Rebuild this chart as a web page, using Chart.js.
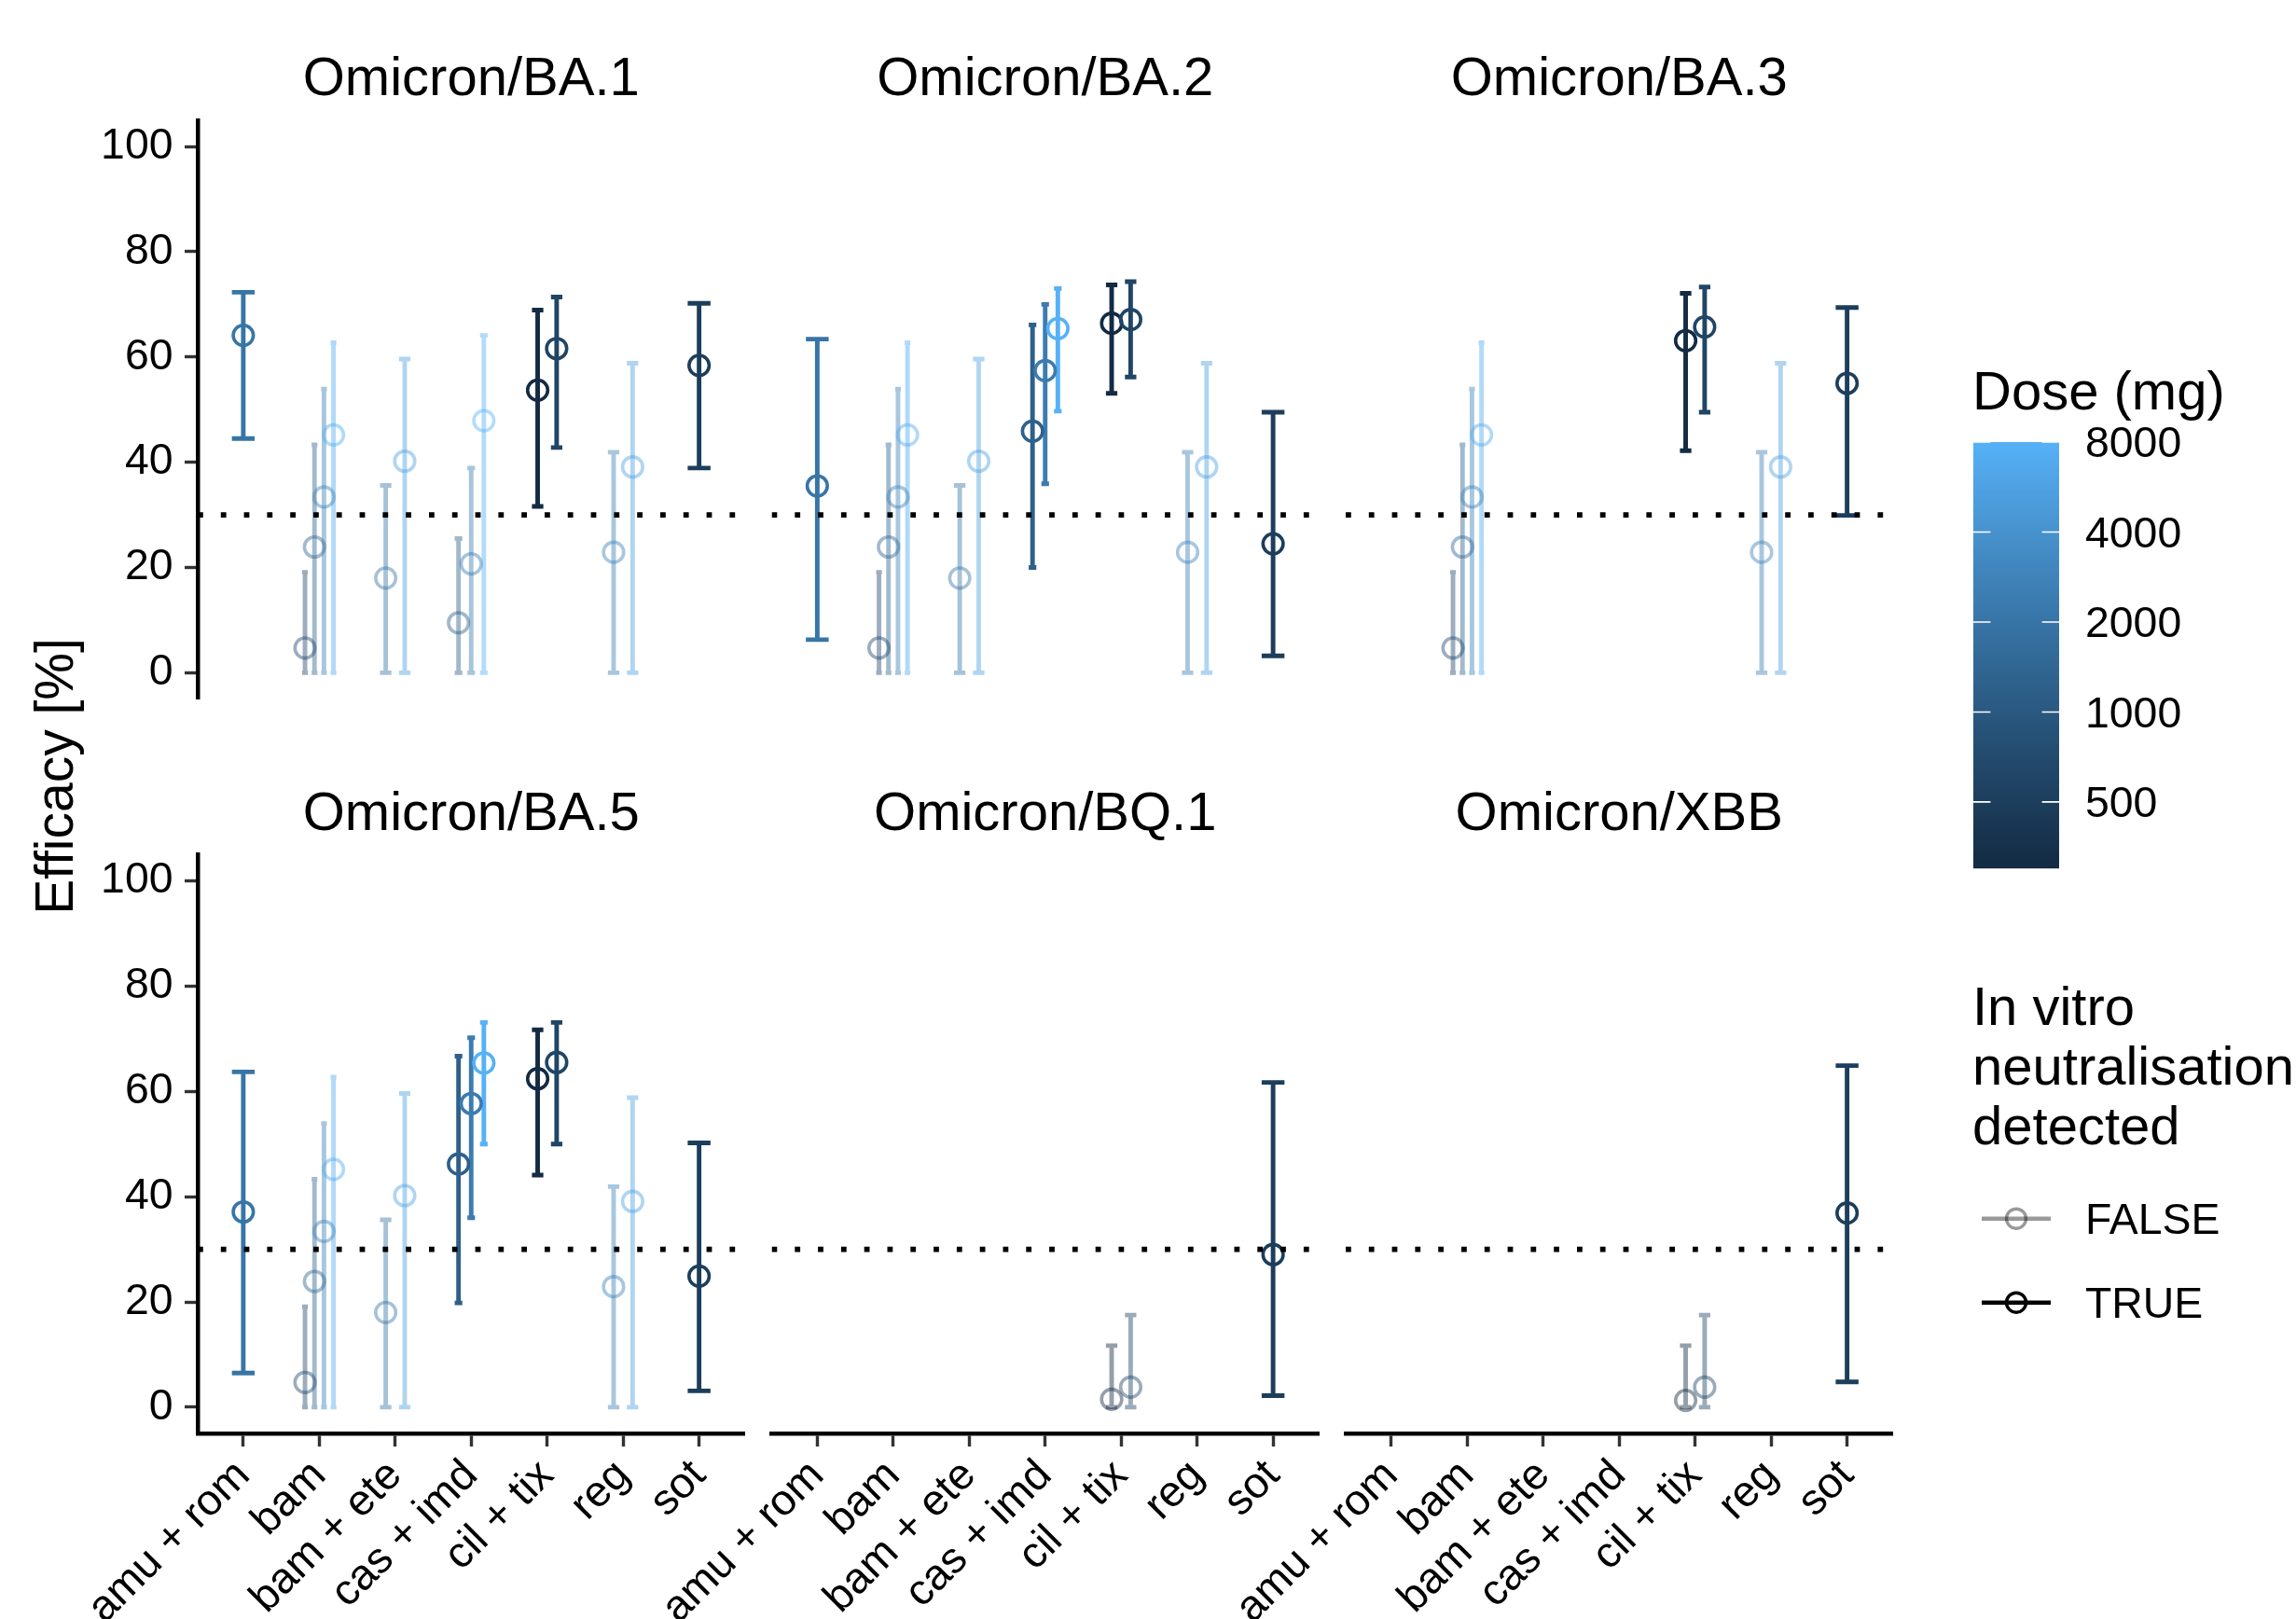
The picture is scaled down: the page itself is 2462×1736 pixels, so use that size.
<!DOCTYPE html>
<html>
<head>
<meta charset="utf-8">
<script src="https://cdn.jsdelivr.net/npm/chart.js@4.4.1/dist/chart.umd.min.js"></script>
<style>
html, body { margin: 0; padding: 0; background: #fff; }
#page { position: relative; width: 2462px; height: 1736px; overflow: hidden;
        font-family: "Liberation Sans", Arial, Helvetica, sans-serif; color: #000; }
#page canvas { position: absolute; left: 0; top: 0; }
.txt { position: absolute; white-space: nowrap; }
</style>
</head>
<body>
<div id="page"></div>
<script>
// ---- data ----
const variants = ["Omicron/BA.1", "Omicron/BA.2", "Omicron/BA.3", "Omicron/BA.5", "Omicron/BQ.1", "Omicron/XBB"];
const drugs = ["amu + rom", "bam", "bam + ete", "cas + imd", "cil + tix", "reg", "sot"];
const yTicks = [0, 20, 40, 60, 80, 100];
const doseTicks = [500, 1000, 2000, 4000, 8000];
const doseRange = [300, 8000];
const threshold = 30;

// drug, dose (mg), efficacy %, lower, upper, in vitro neutralisation detected
const ba1 = [
  ["amu + rom", 2000, 64.1, 44.5, 72.3, true],
  ["bam", 700, 4.7, 0, 19.1, false],
  ["bam", 1400, 23.9, 0, 43.3, false],
  ["bam", 2800, 33.4, 0, 53.9, false],
  ["bam", 7000, 45.2, 0, 62.7, false],
  ["bam + ete", 2100, 18.0, 0, 35.6, false],
  ["bam + ete", 5600, 40.2, 0, 59.6, false],
  ["cas + imd", 1200, 9.5, 0, 25.5, false],
  ["cas + imd", 2400, 20.7, 0, 38.9, false],
  ["cas + imd", 8000, 47.9, 0, 64.1, false],
  ["cil + tix", 300, 53.7, 31.6, 68.9, true],
  ["cil + tix", 600, 61.6, 42.8, 71.4, true],
  ["reg", 2800, 22.9, 0, 41.9, false],
  ["reg", 5600, 39.1, 0, 58.8, false],
  ["sot", 500, 58.4, 38.9, 70.2, true]
];
const ba2 = [
  ["amu + rom", 2000, 35.5, 6.3, 63.4, true],
  ["bam", 700, 4.7, 0, 19.1, false],
  ["bam", 1400, 23.9, 0, 43.3, false],
  ["bam", 2800, 33.4, 0, 53.9, false],
  ["bam", 7000, 45.2, 0, 62.7, false],
  ["bam + ete", 2100, 18.0, 0, 35.6, false],
  ["bam + ete", 5600, 40.2, 0, 59.6, false],
  ["cas + imd", 1200, 45.9, 20.0, 66.1, true],
  ["cas + imd", 2400, 57.4, 35.9, 70.0, true],
  ["cas + imd", 8000, 65.4, 49.7, 73.0, true],
  ["cil + tix", 300, 66.4, 53.1, 73.7, true],
  ["cil + tix", 600, 67.1, 56.2, 74.3, true],
  ["reg", 2800, 22.9, 0, 41.9, false],
  ["reg", 5600, 39.1, 0, 58.8, false],
  ["sot", 500, 24.5, 3.2, 49.5, true]
];
const ba3 = [
  ["bam", 700, 4.7, 0, 19.1, false],
  ["bam", 1400, 23.9, 0, 43.3, false],
  ["bam", 2800, 33.4, 0, 53.9, false],
  ["bam", 7000, 45.2, 0, 62.7, false],
  ["cil + tix", 300, 63.1, 42.2, 72.1, true],
  ["cil + tix", 600, 65.7, 49.5, 73.3, true],
  ["reg", 2800, 22.9, 0, 41.9, false],
  ["reg", 5600, 39.1, 0, 58.8, false],
  ["sot", 500, 55.0, 29.9, 69.4, true]
];
const ba5 = [
  ["amu + rom", 2000, 37.1, 6.5, 63.7, true],
  ["bam", 700, 4.7, 0, 19.1, false],
  ["bam", 1400, 23.9, 0, 43.3, false],
  ["bam", 2800, 33.4, 0, 53.9, false],
  ["bam", 7000, 45.2, 0, 62.7, false],
  ["bam + ete", 2100, 18.0, 0, 35.6, false],
  ["bam + ete", 5600, 40.2, 0, 59.6, false],
  ["cas + imd", 1200, 46.2, 19.8, 66.7, true],
  ["cas + imd", 2400, 57.7, 36.0, 70.2, true],
  ["cas + imd", 8000, 65.4, 50.0, 73.1, true],
  ["cil + tix", 300, 62.4, 44.1, 71.7, true],
  ["cil + tix", 600, 65.5, 50.0, 73.1, true],
  ["reg", 2800, 22.9, 0, 41.9, false],
  ["reg", 5600, 39.1, 0, 58.8, false],
  ["sot", 500, 24.9, 3.1, 50.2, true]
];
const bq1 = [
  ["cil + tix", 300, 1.5, 0, 11.7, false],
  ["cil + tix", 600, 3.8, 0, 17.5, false],
  ["sot", 500, 29.0, 2.2, 61.7, true]
];
const xbb = [
  ["cil + tix", 300, 1.3, 0, 11.7, false],
  ["cil + tix", 600, 3.8, 0, 17.5, false],
  ["sot", 500, 36.9, 4.8, 64.9, true]
];
const panelRows = [ba1, ba2, ba3, ba5, bq1, xbb];

// ---- layout ----
const W = 2462, H = 1736;
const colLeft = [212, 827.5, 1443];
const rowTop = [128.8, 916.3];
const panelW = 586.5, panelH = 620.8;
const yAxisW = 150;
const xAxisH = H - rowTop[1] - panelH;
const FONT = '"Liberation Sans", Arial, Helvetica, sans-serif';
const dodgeW = 0.5, capW = 0.3, falseAlpha = 0.45;
const page = document.getElementById("page");

// ggplot-like gradient (Lab interpolation, log dose)
function hexRgb(h) { return [1, 3, 5].map(i => parseInt(h.slice(i, i + 2), 16)); }
function rgbLab(c) {
  const l = c.map(v => { v /= 255; return v <= 0.04045 ? v / 12.92 : Math.pow((v + 0.055) / 1.055, 2.4); });
  const X = (l[0] * 0.4124564 + l[1] * 0.3575761 + l[2] * 0.1804375) / 0.95047;
  const Y = l[0] * 0.2126729 + l[1] * 0.7151522 + l[2] * 0.0721750;
  const Z = (l[0] * 0.0193339 + l[1] * 0.1191920 + l[2] * 0.9503041) / 1.08883;
  const f = t => t > 0.008856 ? Math.cbrt(t) : 7.787 * t + 16 / 116;
  return [116 * f(Y) - 16, 500 * (f(X) - f(Y)), 200 * (f(Y) - f(Z))];
}
function labRgb(L, a, b) {
  const fy = (L + 16) / 116, fx = fy + a / 500, fz = fy - b / 200;
  const g = t => t * t * t > 0.008856 ? t * t * t : (t - 16 / 116) / 7.787;
  const X = g(fx) * 0.95047, Y = g(fy), Z = g(fz) * 1.08883;
  const r = 3.2404542 * X - 1.5371385 * Y - 0.4985314 * Z;
  const gg = -0.9692660 * X + 1.8760108 * Y + 0.0415560 * Z;
  const bb = 0.0556434 * X - 0.2040259 * Y + 1.0572252 * Z;
  return [r, gg, bb].map(v => {
    v = v <= 0.0031308 ? 12.92 * v : 1.055 * Math.pow(v, 1 / 2.4) - 0.055;
    return Math.round(Math.min(1, Math.max(0, v)) * 255);
  });
}
const lowLab = rgbLab(hexRgb("#132B43")), highLab = rgbLab(hexRgb("#56B1F7"));
function doseColor(d, a = 1) {
  let t = (Math.log(d) - Math.log(doseRange[0])) / (Math.log(doseRange[1]) - Math.log(doseRange[0]));
  t = Math.min(1, Math.max(0, t));
  const c = labRgb(...lowLab.map((v, i) => v + (highLab[i] - v) * t));
  return `rgba(${c[0]},${c[1]},${c[2]},${a})`;
}

function buildPoints(rows) {
  const counts = {}, seen = {};
  rows.forEach(r => counts[r[0]] = (counts[r[0]] || 0) + 1);
  return rows.map(r => {
    const n = counts[r[0]];
    const k = seen[r[0]] = (seen[r[0]] === undefined ? 0 : seen[r[0]] + 1);
    return {
      x: drugs.indexOf(r[0]) - dodgeW / 2 + dodgeW * (k + 0.5) / n,
      y: r[2], lo: r[3], hi: r[4],
      cap: capW / 2 / n,
      col: doseColor(r[1], r[5] ? 1 : falseAlpha)
    };
  });
}

// error bars drawn under the points, through the chart scales
const errorBars = {
  id: "errorBars",
  beforeDatasetsDraw(chart) {
    const ctx = chart.ctx, xs = chart.scales.x, ys = chart.scales.y;
    ctx.save();
    ctx.lineWidth = 4.9;
    ctx.lineCap = "butt";
    chart.data.datasets[1].data.forEach(p => {
      const x = xs.getPixelForValue(p.x);
      const w = xs.getPixelForValue(p.x + p.cap) - x;
      const y1 = ys.getPixelForValue(p.lo), y2 = ys.getPixelForValue(p.hi);
      ctx.strokeStyle = p.col;
      ctx.beginPath();
      ctx.moveTo(x - w, y2); ctx.lineTo(x + w, y2);
      ctx.moveTo(x, y2); ctx.lineTo(x, y1);
      ctx.moveTo(x - w, y1); ctx.lineTo(x + w, y1);
      ctx.stroke();
    });
    ctx.restore();
  }
};

function addText(str, x, baseline, fs, align) {
  const d = document.createElement("div");
  d.className = "txt";
  d.textContent = str;
  d.style.fontSize = fs + "px";
  d.style.lineHeight = fs + "px";
  d.style.top = (baseline - 0.8465 * fs) + "px";
  if (align === "center") {
    d.style.left = (x - 500) + "px"; d.style.width = "1000px"; d.style.textAlign = "center";
  } else {
    d.style.left = x + "px";
  }
  page.appendChild(d);
  return d;
}

variants.forEach((name, i) => {
  const col = i % 3, row = Math.floor(i / 3);
  const showY = col === 0, showX = row === 1;
  const left = colLeft[col], top = rowTop[row];
  const pts = buildPoints(panelRows[i]);
  const cv = document.createElement("canvas");
  cv.width = W; cv.height = H;
  cv.style.width = W + "px"; cv.style.height = H + "px";
  page.appendChild(cv);

  new Chart(cv, {
    type: "scatter",
    data: {
      datasets: [
        { data: [{ x: -0.6, y: threshold }, { x: 6.6, y: threshold }], showLine: true,
          borderColor: "#000", borderWidth: 5.8, borderDash: [5.8, 19], borderCapStyle: "butt",
          pointRadius: 0 },
        { data: pts, showLine: false, pointStyle: "circle", pointRadius: 10.8, pointBorderWidth: 3.6,
          pointBorderColor: pts.map(p => p.col), pointBackgroundColor: "rgba(0,0,0,0)" }
      ]
    },
    options: {
      responsive: false, animation: false, events: [],
      layout: { padding: {
        left: showY ? left - yAxisW : left,
        top: top,
        right: W - left - panelW,
        bottom: Math.max(0, H - top - panelH - (showX ? xAxisH : 0))
      } },
      plugins: { legend: { display: false }, tooltip: { enabled: false } },
      scales: {
        x: {
          type: "linear", min: -0.6, max: 6.6, display: showX,
          afterBuildTicks: s => { s.ticks = drugs.map((d, j) => ({ value: j })); },
          afterFit: s => { if (showX) s.height = xAxisH; },
          ticks: { autoSkip: false, minRotation: 45, maxRotation: 45, padding: 4, color: "#000",
                   font: { family: FONT, size: 46.4 }, callback: v => drugs[v] },
          grid: { drawOnChartArea: false, drawTicks: true, tickLength: 14, tickColor: "#333", tickWidth: 3.4 },
          border: { display: true, color: "#000", width: 4.5 }
        },
        y: {
          type: "linear", min: -5, max: 105, display: showY,
          afterBuildTicks: s => { s.ticks = yTicks.map(v => ({ value: v })); },
          afterFit: s => { if (showY) s.width = yAxisW; },
          ticks: { padding: 12.5, color: "#000", font: { family: FONT, size: 46.4 } },
          grid: { drawOnChartArea: false, drawTicks: true, tickLength: 14, tickColor: "#333", tickWidth: 3.4 },
          border: { display: true, color: "#000", width: 4.5 }
        }
      }
    },
    plugins: [errorBars]
  });

  addText(name, left + panelW / 2, top - 26.5, 58, "center");
});

// shared y title
const yt = document.createElement("div");
yt.className = "txt";
yt.textContent = "Efficacy [%]";
Object.assign(yt.style, { fontSize: "57px", lineHeight: "57px", width: "600px", textAlign: "center",
  left: (58 - 300) + "px", top: (832 - 28.5) + "px", transform: "rotate(-90deg)" });
page.appendChild(yt);

// ---- legends ----
const lg = document.createElement("canvas");
lg.width = W; lg.height = H;
page.appendChild(lg);
const g = lg.getContext("2d");
const bar = { x: 2116, y: 474, w: 92, h: 457 };
const lnMax = Math.log(doseRange[1]), lnSpan = Math.log(doseRange[1]) - Math.log(doseRange[0]);
for (let r = 0; r < bar.h; r++) {
  g.fillStyle = doseColor(Math.exp(lnMax - (r + 0.5) / bar.h * lnSpan));
  g.fillRect(bar.x, bar.y + r, bar.w, 1.2);
}
g.strokeStyle = "#fff";
g.lineWidth = 1.6;
doseTicks.forEach(d => {
  const y = bar.y + (lnMax - Math.log(d)) / lnSpan * bar.h;
  g.beginPath();
  g.moveTo(bar.x, y); g.lineTo(bar.x + bar.w / 5, y);
  g.moveTo(bar.x + bar.w * 4 / 5, y); g.lineTo(bar.x + bar.w, y);
  g.stroke();
  addText(String(d), 2236, y + 16.6, 46.4);
});
addText("Dose (mg)", 2115, 439, 58);

["In vitro", "neutralisation", "detected"].forEach((s, k) => addText(s, 2115, 1099 + k * 64, 58));
[["FALSE", "rgba(0,0,0,0.4)", 1306.7], ["TRUE", "#000", 1396.7]].forEach(([lab, c, y]) => {
  g.strokeStyle = c;
  g.lineWidth = 4.6;
  g.beginPath(); g.moveTo(2125, y); g.lineTo(2199, y); g.stroke();
  g.lineWidth = 3.4;
  g.beginPath(); g.arc(2162, y, 10.5, 0, Math.PI * 2); g.stroke();
  addText(lab, 2236, y + 16.6, 46.4);
});
</script>
</body>
</html>
